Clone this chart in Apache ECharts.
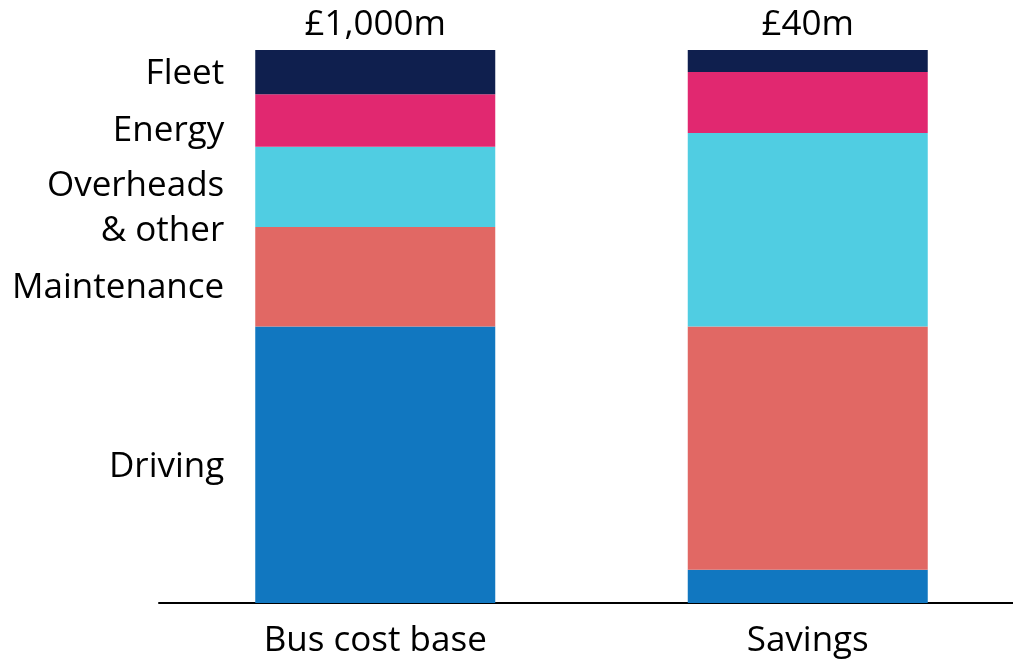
<!DOCTYPE html>
<html>
<head>
<meta charset="utf-8">
<script src="https://cdn.jsdelivr.net/npm/echarts@6/dist/echarts.min.js"></script>
<style>html,body{margin:0;padding:0;background:#fff;overflow:hidden;width:1013px;height:659px;}#c{width:1024px;height:659px;}</style>
</head>
<body>
<div id="c"></div>
<script>
const categories = ['Bus cost base', 'Savings'];
const totals = ['£1,000m', '£40m'];
const driving = [50, 6];
const maintenance = [18, 44];
const overheads = [14.5, 35];
const energy = [9.5, 11];
const fleet = [8, 4];
const seriesNames = ['Driving', 'Maintenance', 'Overheads\n& other', 'Energy', 'Fleet'];
const colors = ['#1177C0', '#E16864', '#50CDE2', '#E12870', '#0F1F4E'];
const labelOffsets = [2, 11, 22, 11, 2];

const FONT = '"Open Sans", sans-serif';
const values = [driving, maintenance, overheads, energy, fleet];

const series = values.map((arr, i) => ({
  type: 'bar',
  name: seriesNames[i],
  stack: 'total',
  barWidth: 240,
  itemStyle: { color: colors[i] },
  data: arr.map((v, j) => {
    const d = { value: v };
    if (j === 0) {
      d.label = {
        show: true, position: 'left', distance: 31,
        offset: [0, labelOffsets[i]],
        formatter: seriesNames[i],
        fontFamily: FONT, fontSize: 35, color: '#000', lineHeight: 45, align: 'right'
      };
    }
    return d;
  })
}));
// totals on top
series.push({
  type: 'bar', stack: 'total', barWidth: 240, silent: true,
  data: categories.map(() => 0),
  itemStyle: { color: 'transparent' },
  label: {
    show: true, position: 'top', distance: 7,
    formatter: p => totals[p.dataIndex],
    fontFamily: FONT, fontSize: 35, color: '#000'
  }
});

const chart = echarts.init(document.getElementById('c'), null, { renderer: 'canvas' });
chart.setOption({
  animation: false,
  backgroundColor: '#fff',
  grid: { left: 159, right: 0, top: 50, bottom: 56, containLabel: false },
  xAxis: {
    type: 'category', data: categories,
    axisLine: { show: true, lineStyle: { color: '#000', width: 2 } },
    axisTick: { show: false },
    axisLabel: { fontFamily: FONT, fontSize: 35, color: '#000', margin: 21 }
  },
  yAxis: { type: 'value', min: 0, max: 100, show: false },
  series: series
});
</script>
</body>
</html>
